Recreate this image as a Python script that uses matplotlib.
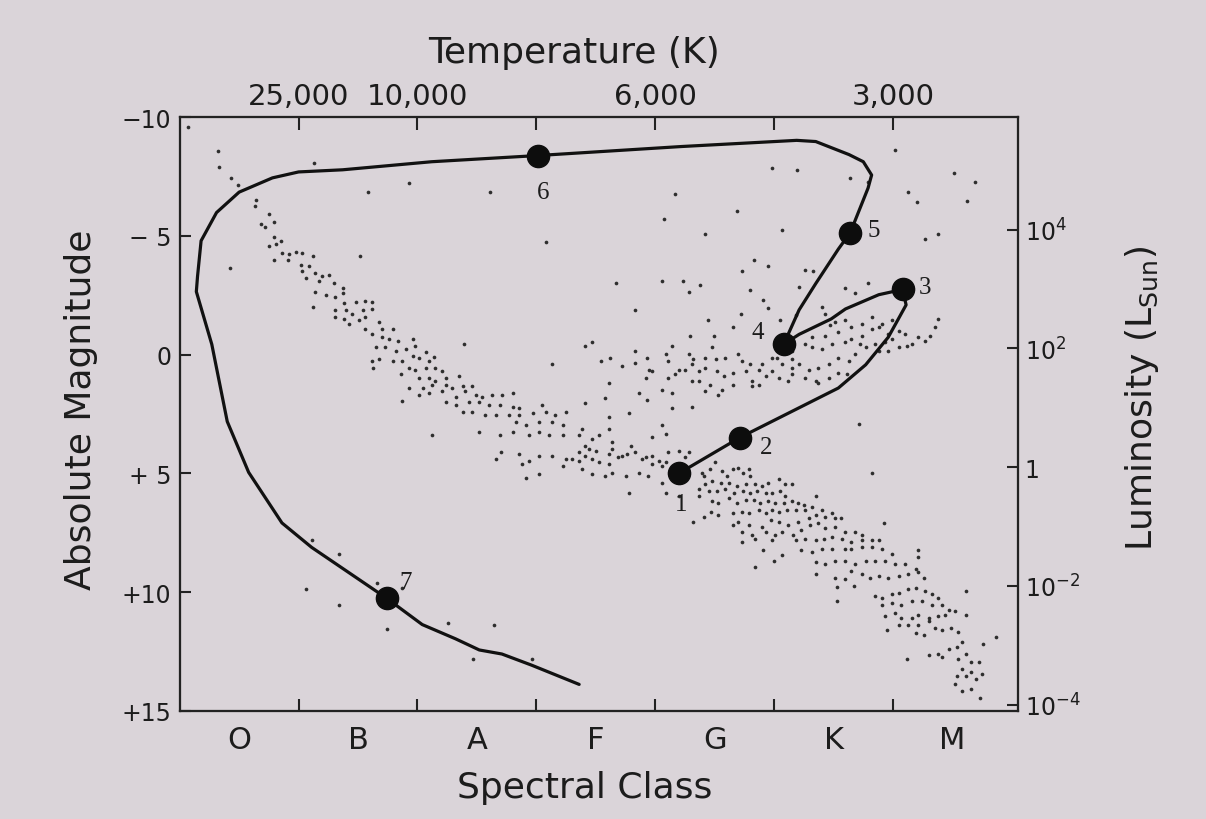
import numpy as np
import matplotlib.pyplot as plt

# x = spectral class index (O=0 ... M=6), y = absolute magnitude
spectral_classes = ['O', 'B', 'A', 'F', 'G', 'K', 'M']
temp_tick_pos = [0.5, 1.5, 2.5, 3.5, 4.5, 5.5]
temp_tick_labels = ['25,000', '10,000', '', '6,000', '', '3,000']
mag_ticks = [-10, -5, 0, 5, 10, 15]
mag_tick_labels = ['\u221210', '\u2212 5', '0', '+ 5', '+10', '+15']
lum_ticks = [1e4, 1e2, 1, 1e-2, 1e-4]
lum_tick_labels = ['10$^{4}$', '10$^{2}$', '1', '10$^{-2}$', '10$^{-4}$']

# evolutionary track of the Sun
track_x = [3.70, 4.21, 5.04, 5.27, 5.46, 5.61, 5.58, 5.38, 5.10, 4.98, 4.71, 4.58,
           4.71, 4.85, 5.04, 5.14, 5.29, 5.32, 5.25, 5.13, 4.85, 4.69, 3.72, 2.51,
           1.62, 0.87, 0.50, 0.28, 0.00, -0.19, -0.32, -0.35, -0.36, -0.23, -0.10,
           0.08, 0.36, 0.61, 1.24, 1.54, 1.82, 2.02, 2.21, 2.46, 2.86]
track_m = [5.00, 3.50, 1.41, 0.43, -0.73, -2.09, -2.74, -2.52, -1.92, -1.50, -0.85, -0.43,
           -1.88, -2.99, -4.44, -5.13, -7.01, -7.56, -8.12, -8.42, -8.97, -9.02, -8.76, -8.38,
           -8.12, -7.78, -7.69, -7.44, -6.84, -5.98, -4.79, -3.29, -2.65, -0.43, 2.82,
           4.96, 7.09, 8.12, 10.26, 11.37, 11.97, 12.44, 12.61, 13.08, 13.89]

stage_x = [3.70, 4.21, 5.58, 4.58, 5.14, 2.51, 1.24]
stage_m = [5.00, 3.50, -2.74, -0.43, -5.13, -8.38, 10.26]
stage_labels = ['1', '2', '3', '4', '5', '6', '7']

# background stars (spectral index, magnitude)
ms_upper = [
    (-0.17, -7.88), (-0.07, -7.42), (-0.01, -7.14), (0.14, -6.50), (0.13, -6.24), (0.25, -5.93),
    (0.29, -5.57), (0.18, -5.50), (0.22, -5.36), (0.29, -4.93), (0.35, -4.79), (0.25, -4.57),
    (0.31, -4.64), (0.36, -4.29), (0.42, -4.22), (0.48, -4.32), (0.53, -4.29), (0.62, -4.15),
    (0.29, -4.00), (0.41, -3.97), (0.52, -3.79), (0.59, -3.72), (0.53, -3.50), (0.64, -3.43),
    (0.70, -3.29), (0.76, -3.36), (0.56, -3.22), (0.67, -3.08), (0.80, -3.01), (0.87, -2.79),
    (0.64, -2.65), (0.73, -2.51), (0.81, -2.44), (0.87, -2.58), (0.88, -2.15), (0.98, -2.22),
    (1.06, -2.27), (1.12, -2.22), (0.81, -1.87), (0.90, -1.87), (0.95, -1.72), (1.04, -1.87),
    (1.12, -1.90), (0.81, -1.58), (0.88, -1.51), (1.01, -1.44), (0.92, -1.30), (1.06, -1.58),
    (1.18, -1.37), (1.06, -1.08), (1.12, -0.87), (1.20, -1.08), (1.29, -1.08), (1.20, -0.73),
    (1.26, -0.66), (1.34, -0.58), (1.46, -0.66), (1.15, -0.30), (1.23, -0.30), (1.32, -0.16),
    (1.40, -0.23), (1.48, -0.37), (1.57, -0.09), (1.12, 0.27), (1.18, 0.20), (1.29, 0.27),
    (1.37, 0.27), (1.46, 0.06), (1.51, 0.13), (1.60, 0.27), (1.13, 0.56), (1.36, 0.84),
    (1.43, 0.56), (1.48, 0.63), (1.57, 0.56), (1.65, 0.56), (1.71, 0.70), (1.51, 0.98),
    (1.60, 0.98), (1.65, 1.13), (1.74, 0.98), (1.85, 0.91), (1.43, 1.41), (1.55, 1.41),
    (1.62, 1.27), (1.74, 1.27), (1.79, 1.41), (1.88, 1.34), (1.96, 1.34), (1.51, 1.70),
    (1.60, 1.62), (1.71, 1.55), (1.82, 1.77), (1.90, 1.55), (1.99, 1.70), (2.04, 1.77),
    (2.13, 1.70), (2.21, 1.70), (2.30, 1.62), (1.74, 1.98), (1.82, 2.12), (1.93, 1.98),
    (2.02, 1.98), (2.10, 2.12), (2.19, 2.12), (2.30, 2.19), (2.35, 2.26), (1.88, 2.41),
    (1.96, 2.41), (2.07, 2.55), (2.16, 2.55), (2.27, 2.55), (2.35, 2.55), (2.47, 2.48),
    (2.55, 2.12), (2.58, 2.41), (2.66, 2.55), (2.75, 2.41), (2.33, 2.83), (2.41, 2.98),
    (2.52, 2.83), (2.63, 2.83), (2.72, 2.98), (2.02, 3.26), (2.19, 3.40), (2.30, 3.26),
    (2.44, 3.40), (2.52, 3.26), (2.61, 3.40), (2.72, 3.40)]

ms_middle = [
    (3.30, 3.83), (3.33, 4.12), (3.39, 4.40), (3.42, 4.33), (3.47, 4.26), (3.53, 4.47),
    (3.56, 4.69), (3.59, 4.54), (3.47, 4.62), (3.61, 4.12), (3.70, 4.05), (3.78, 4.12),
    (3.75, 4.33), (3.22, 4.26), (3.26, 4.19), (3.14, 3.97), (3.19, 4.33), (3.11, 4.19),
    (3.11, 4.62), (3.03, 4.54), (2.97, 4.40), (3.00, 4.05), (2.91, 4.26), (2.94, 3.97),
    (2.86, 4.12), (2.88, 4.83), (2.97, 5.04), (3.08, 5.11), (3.14, 4.97), (3.25, 5.11),
    (3.36, 4.97), (3.28, 5.83), (3.44, 5.11), (3.56, 5.40), (3.59, 5.83), (3.70, 5.97),
    (2.97, 3.55), (3.03, 3.40), (3.11, 3.12), (3.14, 3.69), (2.86, 3.40), (2.88, 3.12),
    (2.91, 3.83), (2.35, 4.19), (2.44, 4.47), (2.38, 4.62), (2.52, 5.04), (2.41, 5.18),
    (2.16, 4.40), (2.20, 4.12), (2.80, 4.40), (2.75, 4.40), (2.72, 4.69), (2.63, 4.26),
    (2.52, 4.26), (2.86, 4.47), (3.47, 3.48), (3.56, 2.98), (3.59, 3.33)]

ms_lower = [
    (3.89, 4.97), (3.91, 5.11), (3.96, 4.83), (4.00, 4.54), (4.06, 4.90), (4.10, 5.11),
    (4.15, 4.83), (4.20, 4.76), (4.24, 4.97), (4.29, 4.83), (4.30, 5.11), (3.92, 5.47),
    (3.98, 5.33), (4.05, 5.40), (4.12, 5.40), (4.19, 5.54), (4.26, 5.47), (4.34, 5.47),
    (4.40, 5.54), (4.45, 5.40), (4.54, 5.26), (4.59, 5.47), (4.65, 5.47), (3.87, 5.68),
    (3.95, 5.76), (4.02, 5.76), (4.09, 5.68), (4.16, 5.83), (4.24, 5.76), (4.30, 5.83),
    (4.36, 5.76), (4.43, 5.83), (4.48, 5.83), (4.55, 5.76), (4.59, 5.97), (3.98, 6.18),
    (4.03, 6.25), (4.12, 6.04), (4.19, 6.25), (4.26, 6.11), (4.33, 6.11), (4.38, 6.25),
    (4.45, 6.18), (4.51, 6.25), (4.58, 6.25), (4.65, 6.18), (4.70, 6.25), (4.75, 6.33),
    (3.87, 5.97), (3.97, 6.65), (3.91, 6.82), (3.82, 7.04), (4.03, 6.75), (4.15, 6.68),
    (4.23, 6.61), (4.29, 6.68), (4.37, 6.54), (4.43, 6.68), (4.48, 6.54), (4.54, 6.61),
    (4.61, 6.54), (4.68, 6.54), (4.76, 6.54), (4.82, 6.40), (4.90, 6.54), (4.99, 6.68),
    (4.15, 7.18), (4.20, 7.04), (4.29, 7.18), (4.40, 7.25), (4.47, 6.97), (4.54, 7.04),
    (4.62, 7.18), (4.70, 7.04), (4.79, 6.90), (4.85, 6.75), (4.93, 6.82), (5.01, 6.90),
    (5.06, 6.90), (4.23, 7.46), (4.31, 7.61), (4.43, 7.46), (4.51, 7.61), (4.57, 7.46),
    (4.66, 7.61), (4.73, 7.39), (4.80, 7.18), (4.87, 7.11), (4.93, 7.32), (5.01, 7.25),
    (5.10, 7.46), (5.18, 7.46), (5.24, 7.61), (4.23, 7.89), (4.34, 7.75), (4.48, 7.82),
    (4.68, 7.82), (4.76, 7.75), (4.85, 7.82), (4.92, 7.75), (4.99, 7.68), (5.07, 7.75),
    (5.15, 7.89), (5.24, 7.82), (5.32, 7.82), (5.38, 7.82), (4.41, 8.25), (4.57, 8.46),
    (4.73, 8.25), (4.82, 8.32), (4.90, 8.18), (4.99, 8.18), (5.10, 8.18), (5.15, 8.18),
    (5.24, 8.11), (5.32, 8.11), (5.41, 8.18), (5.49, 8.39), (4.50, 8.68), (4.85, 8.75),
    (4.93, 8.82), (5.01, 8.68), (5.10, 8.68), (5.18, 8.82), (5.27, 8.68), (5.35, 8.68),
    (5.43, 8.68), (5.52, 8.82), (5.60, 8.82), (5.69, 9.03), (4.34, 8.93), (4.85, 9.25),
    (5.01, 9.39), (5.10, 9.46), (5.15, 9.10), (5.24, 9.25), (5.31, 9.39), (5.38, 9.32),
    (5.46, 9.39), (5.55, 9.32), (5.63, 9.25), (5.71, 9.17), (5.76, 9.39), (5.03, 9.79),
    (5.17, 9.74), (5.03, 10.38), (5.35, 10.17), (5.41, 10.24), (5.49, 10.10), (5.55, 10.03),
    (5.63, 9.89), (5.69, 9.82), (5.77, 9.96), (5.83, 10.10), (5.88, 10.24), (5.41, 10.53),
    (5.49, 10.46), (5.57, 10.53), (5.66, 10.39), (5.74, 10.39), (5.83, 10.53), (5.91, 10.53),
    (5.97, 10.74), (5.43, 11.03), (5.52, 10.88), (5.57, 11.10), (5.66, 11.10), (5.71, 10.96),
    (5.80, 11.10), (5.88, 11.03), (5.94, 10.96), (6.02, 10.81), (6.11, 10.96), (5.55, 11.38),
    (5.63, 11.38), (5.71, 11.38), (5.80, 11.24), (5.85, 11.53), (5.91, 11.60), (5.45, 11.60),
    (5.69, 11.74), (5.76, 11.81), (5.99, 11.53), (6.05, 11.67), (6.08, 12.09), (6.04, 12.31),
    (5.97, 12.38), (5.91, 12.74), (5.80, 12.66), (5.88, 12.59), (6.11, 12.59), (6.05, 12.81),
    (6.16, 12.95), (6.22, 12.95), (6.08, 13.23), (6.16, 13.38), (6.25, 13.45), (6.04, 13.52),
    (6.11, 13.52), (6.20, 13.66), (6.02, 13.88), (6.16, 14.09), (6.08, 14.16), (6.23, 14.45),
    (5.62, 12.81), (6.11, 9.96), (6.26, 12.17), (6.37, 11.88), (5.71, 8.25), (5.71, 8.53),
    (5.32, 4.97), (5.42, 7.11), (4.85, 5.97)]

giants = [
    (2.91, -0.37), (2.97, -0.51), (3.04, 0.27), (3.12, 0.13), (3.22, 0.48), (3.33, -0.16),
    (3.33, 0.34), (3.43, 0.13), (3.45, 0.63), (3.47, 0.70), (3.59, -0.01), (3.61, 0.27),
    (3.64, -0.37), (3.67, 0.84), (3.70, 0.63), (3.75, 0.63), (3.81, 0.41), (3.78, -0.01),
    (3.79, -0.80), (3.82, 0.20), (3.81, 1.13), (3.87, 1.13), (3.87, 0.70), (3.56, 1.48),
    (3.61, 0.98), (3.64, 1.62), (3.42, 0.98), (3.36, 1.62), (3.43, 1.91), (3.64, 2.26),
    (3.81, 2.19), (3.11, 1.20), (3.08, 1.84), (2.91, 2.05), (3.28, 2.48), (3.11, 2.62),
    (3.17, -3.01), (3.56, -3.08), (3.73, -3.08), (3.78, -2.65), (3.88, -2.93), (3.33, -1.87),
    (4.23, -3.50), (4.33, -3.97), (4.45, -3.75), (4.30, -2.72), (4.41, -2.29), (4.45, -1.94),
    (4.22, -1.72), (3.94, -1.44), (4.15, -1.15), (3.99, -0.80), (3.98, -0.30), (3.92, 0.13),
    (4.01, 0.20), (4.09, 0.13), (4.20, -0.01), (4.23, 0.27), (4.30, 0.41), (4.40, 0.41),
    (4.48, 0.13), (3.92, 0.56), (4.02, 0.70), (4.08, 0.91), (4.15, 0.77), (4.26, 0.70),
    (4.37, 0.63), (4.48, 0.70), (4.52, 0.13), (4.57, 0.41), (4.65, 0.20), (4.71, 0.41),
    (4.79, 0.63), (4.87, 0.56), (4.96, 0.41), (5.04, 0.13), (5.13, 0.27), (5.18, -0.01),
    (5.27, -0.30), (5.35, -0.44), (4.65, -0.16), (4.76, -0.44), (4.82, -0.30), (4.90, -0.23),
    (4.99, -0.44), (5.10, -0.51), (5.15, -0.65), (5.24, -0.80), (5.32, -1.08), (5.41, -1.30),
    (5.49, -1.44), (4.82, -0.73), (4.93, -0.80), (5.04, -0.94), (5.15, -1.15), (5.24, -1.30),
    (5.10, -1.44), (5.32, -1.58), (5.38, -1.15), (5.46, -0.87), (5.55, -1.01), (5.60, -0.87),
    (5.66, -0.44), (5.62, -0.37), (5.77, -0.58), (5.81, -0.80), (5.85, -1.15), (5.88, -1.51),
    (5.71, -0.73), (4.65, 0.84), (4.76, 0.98), (4.85, 1.13), (4.65, 0.56), (4.54, 0.98),
    (4.43, 0.91), (4.37, 1.27), (4.31, 1.34), (4.15, 1.27), (4.06, 1.48), (3.96, 1.27),
    (3.92, 1.55), (4.03, 1.70), (4.31, 1.13), (4.62, 1.13), (4.87, 1.20), (4.96, 0.98),
    (5.04, 0.77), (5.11, 0.84), (5.01, -1.37), (4.90, -2.01), (4.93, -1.72), (5.10, -2.79),
    (5.18, -2.58), (5.29, -3.01), (4.71, -2.86), (4.76, -3.58), (4.83, -3.50), (4.68, -1.65),
    (4.55, -1.44), (4.97, -1.23), (5.22, -0.44), (5.38, -0.16), (5.46, -0.16), (5.55, -0.30),
    (5.43, -0.51), (5.49, -0.65), (5.21, 2.91)]

field = [
    (5.52, -8.63), (4.48, -7.85), (4.69, -7.78), (5.14, -7.42), (5.29, -7.28), (6.01, -7.64),
    (6.19, -7.28), (5.63, -6.85), (5.70, -6.43), (6.12, -6.45), (3.67, -6.74), (4.19, -6.03),
    (3.57, -5.69), (3.92, -5.07), (4.57, -5.26), (5.77, -4.86), (5.88, -5.07), (-0.43, -9.60),
    (-0.18, -8.59), (-0.08, -3.65), (0.63, -8.06), (1.02, -4.15), (1.08, -6.85), (1.43, -7.21),
    (2.11, -6.85), (2.58, -4.72), (2.63, 0.41), (1.89, -0.44), (1.64, 0.10), (1.37, 1.95),
    (1.62, 3.40), (0.62, -2.01), (0.61, 7.82), (0.84, 8.38), (0.56, 9.87), (0.84, 10.56),
    (1.16, 9.62), (1.37, 9.83), (1.24, 11.54), (1.76, 11.32), (2.14, 11.37), (1.97, 12.82),
    (2.46, 12.82)]

paper = '#dad4d9'
ink = '#1c1c1c'

fig = plt.figure(figsize=(12.06, 8.2), dpi=100, facecolor=paper)
ax = fig.add_axes([0.149, 0.132, 0.695, 0.724])
ax.set_facecolor(paper)

for group in [ms_upper, ms_middle, ms_lower, giants, field]:
    pts = np.array(group)
    ax.scatter(pts[:, 0], pts[:, 1], s=7, color='#2e2e2e', linewidths=0, zorder=2)

ax.plot(track_x, track_m, color='#111111', lw=2.3, solid_joinstyle='round',
        solid_capstyle='round', zorder=3)
ax.plot(stage_x, stage_m, 'o', ms=16, color='#0d0d0d', zorder=4)

label_offsets = [(1.5, -22), (19, -6.5), (16, 1.5), (-19, 9), (17, 2), (4, -26), (14, 11.5)]
for sx, sm, lab, off in zip(stage_x, stage_m, stage_labels, label_offsets):
    ax.annotate(lab, (sx, sm), xytext=off, textcoords='offset points',
                ha='center', va='center', fontsize=18, family='Liberation Serif', color=ink)

ax.set_xlim(-0.5, 6.55)
ax.set_ylim(15, -10)

for sp in ax.spines.values():
    sp.set_linewidth(1.5)
    sp.set_color('#222222')

# bottom axis: spectral classes, ticks between classes
ax.set_xticks(range(len(spectral_classes)))
ax.set_xticklabels(spectral_classes)
ax.set_xticks(temp_tick_pos, minor=True)
ax.tick_params(axis='x', which='major', length=0, labelsize=22, pad=10, labelcolor=ink)
ax.tick_params(axis='x', which='minor', direction='in', length=9, width=1.5, color='#222222')

ax.set_yticks(mag_ticks)
ax.set_yticklabels(mag_tick_labels)
ax.tick_params(axis='y', direction='in', length=8, width=1.5, labelsize=17, pad=6,
               labelcolor=ink, color='#222222')

ax.set_xlabel('Spectral Class', fontsize=26, color=ink)
ax.xaxis.set_label_coords(0.483, -0.1)
ax.set_ylabel('Absolute Magnitude', fontsize=26, color=ink)
ax.yaxis.set_label_coords(-0.097, 0.508)

# top axis: temperature
axt = ax.twiny()
axt.set_xlim(ax.get_xlim())
axt.set_xticks(temp_tick_pos)
axt.set_xticklabels(temp_tick_labels)
axt.tick_params(axis='x', direction='in', length=9, width=1.5, labelsize=21, pad=5,
                labelcolor=ink, color='#222222')
axt.set_xlabel('Temperature (K)', fontsize=26, color=ink)
axt.xaxis.set_label_coords(0.471, 1.093)

# right axis: luminosity
axr = ax.twinx()
axr.set_ylim(ax.get_ylim())
axr.set_yticks(4.74 - 2.5 * np.log10(lum_ticks))
axr.set_yticklabels(lum_tick_labels)
axr.tick_params(axis='y', direction='in', length=8, width=1.5, labelsize=17, pad=5,
                labelcolor=ink, color='#222222')
axr.set_ylabel('Luminosity (L$_{\\mathrm{Sun}}$)', fontsize=26, color=ink)
axr.yaxis.set_label_coords(1.125, 0.529)

for a in (axt, axr):
    for sp in a.spines.values():
        sp.set_linewidth(1.5)
        sp.set_color('#222222')

fig.savefig('out.png', dpi=100, facecolor=paper)
